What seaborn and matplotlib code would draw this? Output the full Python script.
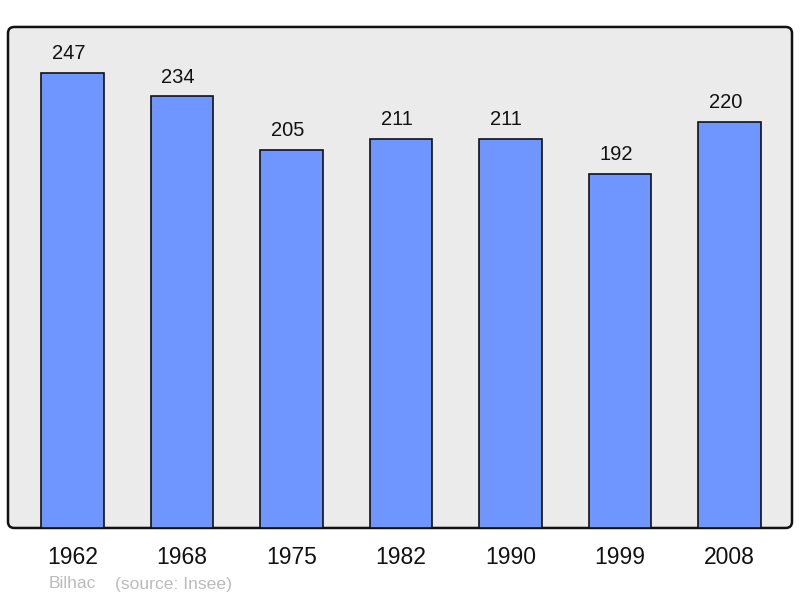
import matplotlib
matplotlib.use("Agg")
import matplotlib.pyplot as plt
import seaborn as sns
import pandas as pd
from matplotlib.patches import FancyBboxPatch

years = ["1962", "1968", "1975", "1982", "1990", "1999", "2008"]
population = [247, 234, 205, 211, 211, 192, 220]
commune = "Bilhac"
source = "(source: Insee)"

sns.set_theme(style="white")
plt.rcParams['font.family'] = ['Liberation Sans', 'DejaVu Sans']

df = pd.DataFrame({"year": years, "pop": population})

fig = plt.figure(figsize=(8, 5.98), dpi=100)
ax = fig.add_axes([0.01, 0.1171, 0.98, 0.8378])
ax.set_facecolor("none")

bg = FancyBboxPatch((0, 0), 1, 1, boxstyle="round,pad=0,rounding_size=0.008",
                    mutation_aspect=784/501, transform=ax.transAxes,
                    facecolor="#ebebeb", edgecolor="#111111", linewidth=1.8,
                    zorder=0, clip_on=False)
ax.add_patch(bg)

sns.barplot(data=df, x="year", y="pop", ax=ax, color="#6f96ff",
            saturation=1, width=0.57, edgecolor="#111111", linewidth=1.2,
            zorder=2)

for i, v in enumerate(population):
    ax.annotate(str(v), (i, v), xytext=(-3, 10), textcoords="offset points",
                ha="center", va="baseline", fontsize=14.5, color="#111111")

ax.set_xlim(-0.59, 6.57)
ax.set_ylim(0, 271.7)
ax.set_xlabel("")
ax.set_ylabel("")
ax.set_yticks([])
ax.tick_params(axis="x", length=0, pad=13, labelsize=16.5, colors="#111111")
for s in ax.spines.values():
    s.set_visible(False)

fig.text(49/800, 1 - 584/598, commune, fontsize=12.6, color="#bbbbbb",
         ha="left", va="center")
fig.text(115/800, 1 - 584/598, source, fontsize=12.6, color="#bbbbbb",
         ha="left", va="center")

fig.savefig("out.png", dpi=100, facecolor="white")
